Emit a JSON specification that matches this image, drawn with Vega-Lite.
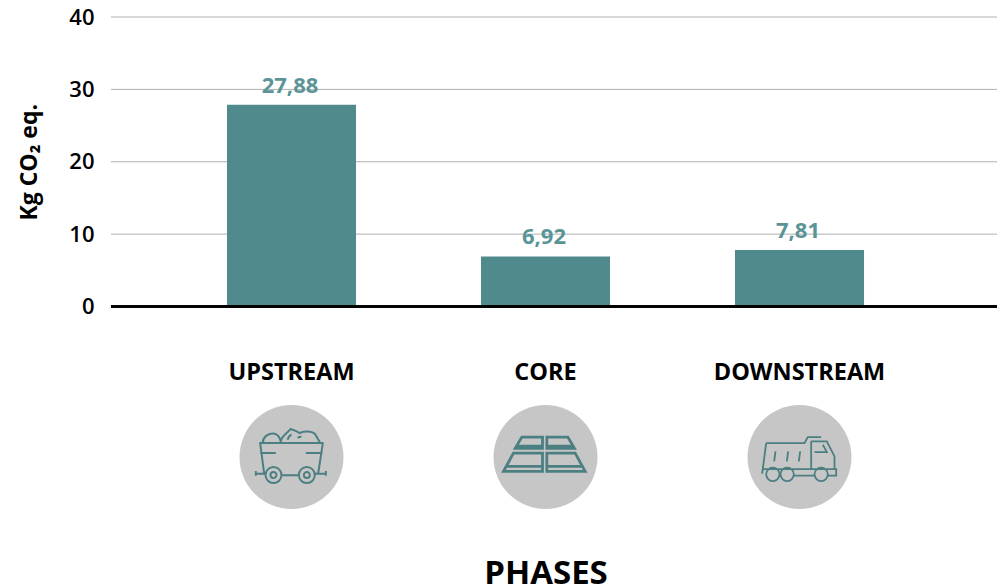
{
  "$schema": "https://vega.github.io/schema/vega-lite/v6.json",
  "width": 886,
  "height": 289.5,
  "autosize": "none",
  "padding": {"left": 111, "top": 17, "right": 3, "bottom": 281.5},
  "background": "white",
  "config": {"view": {"stroke": null}, "font": "Open Sans"},
  "data": {"values": [
    {"phase": "UPSTREAM", "value": 27.88, "label": "27,88"},
    {"phase": "CORE", "value": 6.92, "label": "6,92"},
    {"phase": "DOWNSTREAM", "value": 7.81, "label": "7,81"}
  ]},
  "encoding": {
    "x": {
      "field": "phase", "type": "nominal", "sort": null,
      "scale": {"domain": ["UPSTREAM", "CORE", "DOWNSTREAM"], "range": [53.5, 815.5], "paddingInner": 0.492, "paddingOuter": 0.246},
      "axis": {
        "title": "PHASES", "titleFont": "Open Sans", "titleFontSize": 33, "titleFontWeight": 700, "titleColor": "#000000", "titlePadding": 174,
        "labelFont": "Open Sans", "labelFontSize": 23.5, "labelFontWeight": 700, "labelColor": "#000000", "labelPadding": 53.5, "labelAngle": 0,
        "domain": false, "ticks": false, "grid": false, "labelOverlap": false
      }
    }
  },
  "layer": [
    {
      "data": {"values": [{"tick": 10}, {"tick": 20}, {"tick": 30}, {"tick": 40}]},
      "mark": {"type": "rule", "color": "#b0b0b0", "strokeWidth": 1},
      "encoding": {
        "x": {"value": 0},
        "x2": {"value": 886},
        "y": {
          "field": "tick", "type": "quantitative",
          "scale": {"domain": [0, 40], "nice": false},
          "axis": {
            "values": [0, 10, 20, 30, 40], "title": "Kg CO₂ eq.", "titleFont": "Open Sans", "titleFontSize": 23, "titleFontWeight": 700, "titleColor": "#000000", "titlePadding": 27,
            "labelFont": "Open Sans", "labelFontSize": 22, "labelFontWeight": 600, "labelColor": "#000000", "labelPadding": 17,
            "domain": false, "ticks": false, "grid": false
          }
        }
      }
    },
    {
      "mark": {"type": "bar", "color": "#508a8d"},
      "encoding": {"y": {"field": "value", "type": "quantitative"}}
    },
    {
      "mark": {"type": "rule", "color": "#000000", "strokeWidth": 2.5},
      "encoding": {"x": {"value": 0}, "x2": {"value": 886}, "y": {"datum": 0, "type": "quantitative"}}
    },
    {
      "mark": {"type": "text", "color": "#5a9497", "fontSize": 22, "fontWeight": 700, "font": "Open Sans", "dy": -19, "dx": -1.5, "baseline": "middle"},
      "encoding": {"y": {"field": "value", "type": "quantitative"}, "text": {"field": "label"}}
    },
    {
      "mark": {"type": "point", "shape": "circle", "filled": true, "color": "#c6c6c6", "size": 10816, "opacity": 1},
      "encoding": {"y": {"datum": -20.8, "type": "quantitative"}}
    },
    {
      "transform": [{"filter": "datum.phase === 'UPSTREAM'"}],
      "mark": {"type": "point", "filled": false, "color": "#4c7f82", "size": 0.4444, "opacity": 1, "strokeWidth": 2,
        "shape": "M-97,-42 L96,-42 M-94,-42 L-82,50 M94,-42 L80,50 M-94,-12 L-47,-12 M43,-12 L93,-12 M-107,50 L-78,50 M-30,55 L22,55 M70,50 L103,50 M-107,42 L-107,56 M103,42 L103,56 M-78,54 a24,24 0 1,0 48,0 a24,24 0 1,0 -48,0 M-63,54 a9,9 0 1,0 18,0 a9,9 0 1,0 -18,0 M22,54 a24,24 0 1,0 48,0 a24,24 0 1,0 -48,0 M37,54 a9,9 0 1,0 18,0 a9,9 0 1,0 -18,0 M-87,-42 C-85,-62 -70,-72 -50,-70 C-40,-67 -32,-55 -32,-42 M-32,-48 C-28,-65 -15,-70 -3,-84 C10,-80 20,-75 25,-72 C40,-78 60,-78 70,-70 L85,-44 M-12,-52 C-10,-60 -5,-65 0,-68 M18,-58 L30,-62"},
      "encoding": {"y": {"datum": -20.8, "type": "quantitative"}}
    },
    {
      "transform": [{"filter": "datum.phase === 'CORE'"}],
      "mark": {"type": "point", "filled": false, "color": "#4c7f82", "size": 0.4444, "opacity": 1, "strokeWidth": 2.8,
        "shape": "M-71,-60 L-9,-60 L-9,-26 L-91,-26Z M-83,-33 L-9,-33 M4,-60 L67,-60 L87,-26 L4,-26Z M4,-33 L82,-33 M-96,-12 L-9,-12 L-9,43 L-126,43Z M-116,28 L-9,28 M4,-12 L89,-12 L119,43 L4,43Z M4,28 L111,28"},
      "encoding": {"y": {"datum": -20.8, "type": "quantitative"}}
    },
    {
      "transform": [{"filter": "datum.phase === 'DOWNSTREAM'"}],
      "mark": {"type": "point", "filled": false, "color": "#4c7f82", "size": 0.4444, "opacity": 1, "strokeWidth": 1.8,
        "shape": "M-100,-42 L15,-42 L25,-60 L65,-60 M-100,-42 L-112,50 M35,-47 L82,-47 L105,-2 L105,36 M35,-47 L35,36 M45,-15 L82,-15 L70,-37 M-112,36 L110,36 L110,56 L85,56 M-72,-17 L-76,13 M-34,-17 L-38,13 M2,-17 L-2,13 M-100,52 a20,20 0 1,0 40,0 a20,20 0 1,0 -40,0 M-57,52 a20,20 0 1,0 40,0 a20,20 0 1,0 -40,0 M45,52 a20,20 0 1,0 40,0 a20,20 0 1,0 -40,0 M-17,56 L45,56"},
      "encoding": {"y": {"datum": -20.8, "type": "quantitative"}}
    }
  ]
}
